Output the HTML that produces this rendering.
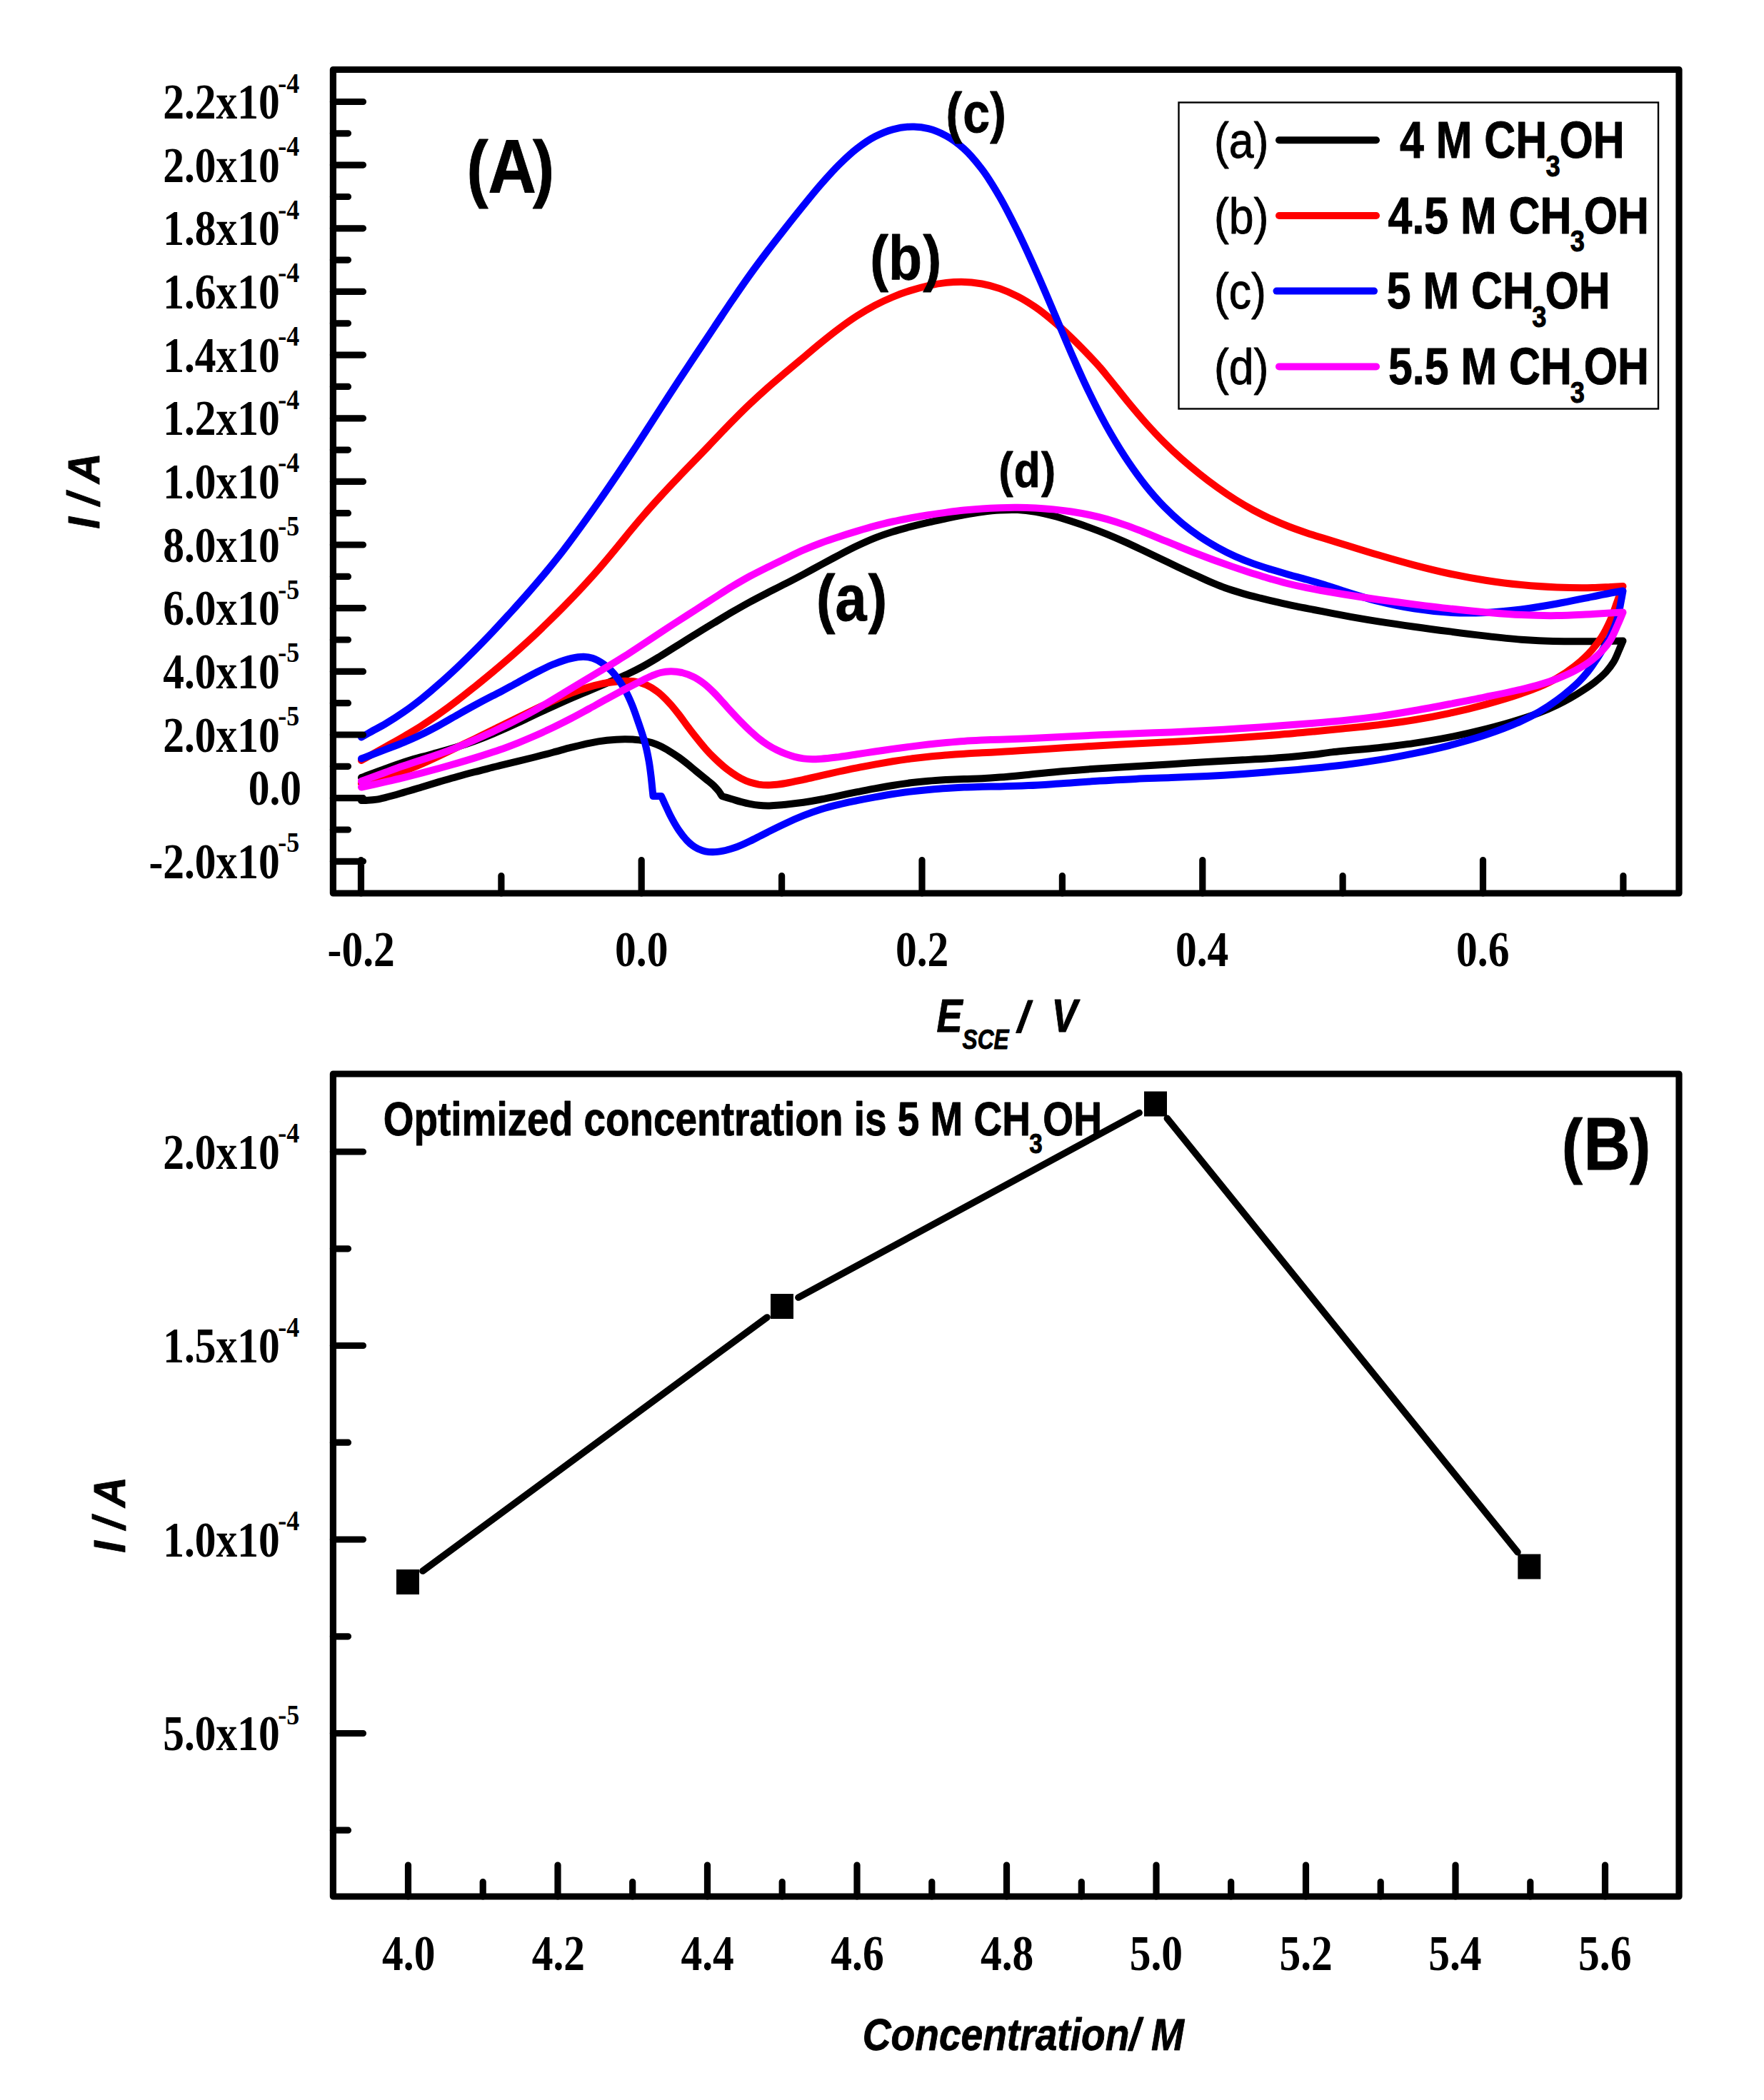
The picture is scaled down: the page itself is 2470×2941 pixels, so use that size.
<!DOCTYPE html>
<html><head><meta charset="utf-8"><title>Figure</title>
<style>html,body{margin:0;padding:0;background:#fff}svg{display:block}</style></head>
<body>
<svg xmlns="http://www.w3.org/2000/svg" width="2470" height="2941" viewBox="0 0 2470 2941">
<rect x="0" y="0" width="2470" height="2941" fill="#fff"/>
<g fill="none" stroke-width="10" stroke-linecap="round" stroke-linejoin="round">
<path d="M506.0 1089.0C517.5 1084.7 528.9 1080.3 540.4 1076.2C548.6 1073.2 556.7 1070.2 565.0 1067.5C573.2 1064.8 581.6 1062.5 590.0 1060.1C598.3 1057.8 606.7 1055.8 615.0 1053.4C623.4 1051.1 631.7 1048.7 640.0 1046.1C648.3 1043.5 656.7 1040.7 664.9 1037.7C673.4 1034.6 681.8 1031.3 690.1 1027.8C698.4 1024.4 706.7 1020.7 714.9 1017.0C723.3 1013.2 731.6 1009.2 740.0 1005.2C748.4 1001.3 756.7 997.3 765.1 993.4C773.4 989.6 781.7 985.8 790.0 982.1C798.3 978.5 806.7 975.0 815.0 971.5C823.3 967.9 831.6 964.4 840.0 960.9C848.3 957.3 856.7 953.8 865.1 950.1C870.4 947.8 875.8 945.5 881.0 943.0C887.4 940.0 893.6 936.9 899.8 933.5C908.3 928.9 916.6 923.8 924.9 918.8C933.4 913.6 941.8 908.2 950.2 902.9C958.5 897.7 966.7 892.5 975.0 887.5C983.2 882.4 991.5 877.3 999.9 872.3C1008.3 867.2 1016.6 862.1 1025.1 857.2C1033.4 852.4 1041.7 847.6 1050.0 843.1C1058.3 838.6 1066.7 834.3 1075.0 830.0C1083.3 825.8 1091.7 821.7 1099.9 817.4C1108.3 813.1 1116.6 808.7 1124.9 804.3C1133.3 799.8 1141.7 795.2 1150.1 790.7C1158.4 786.2 1166.6 781.7 1174.9 777.3C1183.2 772.9 1191.5 768.5 1200.0 764.5C1208.3 760.6 1216.7 756.8 1225.2 753.4C1233.3 750.2 1241.6 747.4 1249.9 744.8C1258.2 742.1 1266.6 739.9 1275.0 737.7C1283.3 735.6 1291.6 733.6 1299.9 731.7C1308.3 729.8 1316.6 727.8 1325.0 726.0C1333.3 724.3 1341.6 722.5 1350.0 721.0C1358.3 719.5 1366.6 718.1 1375.0 717.0C1383.3 715.9 1391.7 714.9 1400.0 714.5C1408.3 714.0 1416.7 713.7 1425.0 714.1C1433.4 714.5 1441.7 715.5 1449.9 716.8C1458.3 718.2 1466.7 720.3 1474.9 722.5C1483.4 724.7 1491.8 727.4 1500.1 730.1C1508.4 732.8 1516.7 735.6 1525.0 738.6C1533.3 741.6 1541.7 744.8 1549.9 748.1C1558.4 751.6 1566.7 755.2 1575.0 758.9C1583.4 762.7 1591.7 766.6 1600.0 770.5C1608.3 774.5 1616.7 778.5 1625.0 782.5C1633.3 786.5 1641.7 790.5 1650.0 794.4C1658.3 798.3 1666.6 802.2 1675.0 806.0C1683.3 809.8 1691.5 813.7 1699.9 817.2C1705.0 819.3 1710.1 821.4 1715.3 823.3C1723.4 826.2 1731.7 828.7 1740.0 831.1C1748.2 833.5 1756.6 835.6 1764.9 837.7C1773.3 839.8 1781.7 841.8 1790.1 843.7C1798.3 845.6 1806.6 847.4 1815.0 849.2C1823.3 850.9 1831.6 852.4 1840.0 854.0C1848.3 855.6 1856.7 857.2 1865.0 858.8C1870.3 859.8 1875.6 860.8 1880.9 861.8C1897.2 864.9 1913.7 867.7 1930.1 870.4C1946.7 873.0 1963.3 875.4 1980.0 877.7C1996.6 880.1 2013.3 882.3 2029.9 884.4C2046.6 886.6 2063.3 888.7 2080.1 890.6C2096.7 892.5 2113.3 894.4 2130.0 895.7C2138.3 896.3 2146.7 896.8 2155.0 897.2C2180.0 898.4 2205.0 898.4 2230.0 898.3C2240.0 898.2 2250.0 898.1 2260.0 897.8C2264.1 897.7 2268.3 897.6 2272.5 897.5C2270.6 901.9 2268.8 906.4 2266.9 910.7C2264.5 916.3 2262.4 922.1 2259.3 927.2C2256.3 932.1 2252.7 936.8 2248.9 941.0C2244.3 946.1 2239.0 950.5 2233.6 954.8C2228.5 958.9 2223.1 962.5 2217.6 966.1C2211.5 970.2 2205.2 974.0 2198.8 977.6C2192.6 981.1 2186.3 984.4 2180.0 987.5C2171.8 991.5 2163.3 995.1 2154.8 998.4C2146.6 1001.5 2138.2 1004.3 2129.8 1007.1C2113.4 1012.4 2096.7 1017.0 2080.0 1021.2C2063.5 1025.4 2046.7 1029.1 2030.0 1032.4C2013.4 1035.7 1996.7 1038.4 1980.0 1040.9C1963.4 1043.4 1946.7 1045.3 1930.0 1047.2C1913.4 1049.0 1896.7 1050.2 1880.1 1051.8C1875.1 1052.3 1870.1 1052.8 1865.1 1053.4C1856.7 1054.3 1848.3 1055.7 1839.9 1056.7C1823.3 1058.6 1806.6 1060.0 1790.0 1061.3C1773.3 1062.6 1756.7 1063.4 1740.0 1064.3C1723.4 1065.3 1706.7 1066.0 1690.0 1067.0C1673.3 1068.0 1656.7 1069.2 1640.0 1070.2C1623.3 1071.2 1606.7 1072.2 1590.0 1073.2C1573.3 1074.2 1556.6 1075.1 1540.0 1076.2C1523.3 1077.3 1506.7 1078.5 1490.1 1080.0C1473.3 1081.4 1456.6 1083.3 1439.9 1084.9C1426.6 1086.2 1413.3 1087.6 1400.0 1088.6C1391.7 1089.3 1383.3 1089.9 1375.0 1090.3C1366.7 1090.7 1358.3 1090.7 1350.0 1091.0C1341.7 1091.3 1333.3 1091.6 1325.0 1092.0C1316.7 1092.5 1308.3 1093.0 1300.0 1093.8C1291.6 1094.5 1283.3 1095.3 1275.0 1096.3C1266.7 1097.4 1258.3 1098.6 1250.0 1100.0C1241.6 1101.3 1233.3 1102.8 1225.0 1104.3C1216.6 1105.8 1208.3 1107.5 1200.0 1109.1C1191.7 1110.8 1183.4 1112.6 1175.1 1114.3C1166.7 1116.1 1158.3 1117.9 1149.9 1119.5C1141.6 1121.1 1133.4 1122.5 1125.0 1123.7C1116.7 1124.8 1108.4 1125.8 1100.0 1126.7C1095.8 1127.1 1091.7 1127.4 1087.5 1127.7C1083.3 1128.1 1079.1 1128.5 1075.0 1128.5C1070.8 1128.5 1066.6 1128.3 1062.5 1127.8C1058.3 1127.4 1054.2 1126.7 1050.0 1125.9C1045.8 1125.1 1041.6 1124.0 1037.4 1122.9C1033.3 1121.8 1029.3 1120.5 1025.2 1119.3C1020.5 1117.9 1015.7 1116.4 1011.0 1115.0C1009.4 1112.6 1008.0 1110.2 1006.3 1107.9C1004.3 1105.4 1002.1 1103.0 999.9 1100.7C996.2 1097.0 991.8 1094.0 987.8 1090.7C983.5 1087.1 979.2 1083.7 974.9 1080.1C970.8 1076.8 966.7 1073.2 962.6 1069.9C958.4 1066.6 954.2 1063.3 949.8 1060.2C945.9 1057.4 941.8 1054.7 937.7 1052.2C933.5 1049.7 929.3 1047.2 924.9 1045.1C920.8 1043.2 916.6 1041.5 912.4 1040.1C906.7 1038.3 900.8 1037.2 894.9 1036.4C888.3 1035.4 881.6 1035.2 875.0 1035.2C866.7 1035.2 858.3 1035.8 850.0 1036.8C841.6 1037.7 833.3 1039.1 825.1 1040.8C816.7 1042.4 808.4 1044.6 800.1 1046.7C791.6 1048.8 783.3 1051.3 774.9 1053.5C766.6 1055.8 758.3 1057.9 750.0 1060.0C741.7 1062.1 733.4 1064.1 725.0 1066.1C716.7 1068.1 708.4 1070.1 700.0 1072.2C696.7 1073.0 693.3 1073.9 689.9 1074.7C681.6 1076.8 673.3 1078.8 665.0 1081.0C656.7 1083.1 648.3 1085.3 640.0 1087.7C631.7 1090.0 623.3 1092.5 615.0 1094.9C606.6 1097.4 598.3 1100.0 590.0 1102.5C581.7 1105.0 573.3 1107.6 565.0 1109.9C556.7 1112.3 548.4 1114.8 539.9 1116.8C535.8 1117.8 531.6 1118.9 527.4 1119.6C523.3 1120.2 519.1 1120.5 515.0 1120.7C512.0 1120.9 509.0 1120.9 506.0 1121.0" stroke="#000000"/>
<path d="M506.0 1065.0C517.3 1058.6 528.7 1052.3 540.0 1045.9C548.3 1041.2 556.7 1036.6 564.9 1031.8C573.3 1026.8 581.7 1021.9 589.9 1016.6C598.5 1011.2 606.8 1005.5 615.1 999.7C623.4 993.8 631.6 987.7 639.7 981.5C648.4 974.9 656.8 968.1 665.3 961.3C673.6 954.7 681.8 947.9 690.0 941.1C698.4 934.1 706.6 927.1 714.8 920.0C723.4 912.5 731.8 905.0 740.2 897.3C748.5 889.6 756.8 881.8 764.9 873.8C773.3 865.6 781.7 857.4 789.9 849.0C798.5 840.2 807.0 831.3 815.4 822.3C823.6 813.5 831.7 804.6 839.6 795.5C848.3 785.5 856.7 775.3 865.1 765.1C870.6 758.5 875.9 751.8 881.3 745.2C887.4 737.8 893.6 730.3 900.0 723.0C908.1 713.5 916.5 704.2 925.0 695.0C933.2 685.9 941.7 677.0 950.2 668.2C958.3 659.6 966.6 651.3 974.8 642.8C980.6 636.8 986.4 630.7 992.2 624.7C1003.2 613.2 1014.0 601.5 1025.2 590.2C1033.4 582.0 1041.5 573.8 1049.9 565.9C1058.2 558.0 1066.6 550.3 1075.2 542.7C1083.4 535.5 1091.7 528.6 1100.0 521.5C1108.2 514.6 1116.4 507.8 1124.5 501.0C1133.1 493.8 1141.6 486.4 1150.3 479.4C1158.4 472.8 1166.6 466.2 1175.0 460.0C1183.1 453.9 1191.4 447.9 1200.0 442.4C1208.2 437.2 1216.5 432.3 1225.1 427.7C1233.2 423.5 1241.5 419.5 1250.0 416.0C1258.1 412.6 1266.5 409.5 1275.0 406.9C1283.2 404.3 1291.6 402.0 1300.0 400.1C1308.3 398.3 1316.6 396.8 1325.0 395.9C1332.0 395.1 1339.1 394.7 1346.1 394.7C1355.8 394.8 1365.5 395.8 1375.0 397.5C1383.5 399.1 1391.9 401.3 1399.9 404.1C1408.5 407.1 1416.9 410.9 1425.0 415.1C1433.6 419.5 1441.8 424.7 1449.8 430.2C1458.6 436.2 1466.9 443.1 1475.0 449.9C1483.6 457.1 1491.8 464.8 1499.9 472.6C1508.7 481.0 1517.1 489.7 1525.5 498.5C1530.6 503.9 1535.7 509.3 1540.6 514.9C1545.3 520.4 1549.7 526.0 1554.3 531.6C1563.0 542.3 1571.4 553.2 1580.2 563.9C1588.3 573.7 1596.5 583.5 1605.0 593.0C1613.1 602.0 1621.4 611.0 1630.0 619.5C1638.1 627.7 1646.6 635.6 1655.2 643.2C1663.2 650.3 1671.4 657.1 1679.8 663.8C1688.0 670.4 1696.5 676.8 1705.1 683.0C1713.2 688.8 1721.6 694.5 1730.1 699.9C1738.2 705.0 1746.5 709.9 1755.0 714.5C1763.2 718.9 1771.6 723.1 1780.0 726.9C1788.2 730.7 1796.6 734.3 1805.0 737.5C1813.2 740.7 1821.6 743.6 1830.0 746.4C1838.3 749.2 1846.7 751.7 1855.1 754.3C1863.6 756.9 1872.2 759.5 1880.8 762.2C1897.2 767.2 1913.6 772.5 1930.1 777.3C1946.6 782.2 1963.2 787.0 1979.9 791.3C1996.6 795.7 2013.3 799.9 2030.1 803.5C2046.6 807.0 2063.3 810.1 2080.0 812.7C2096.6 815.2 2113.3 817.4 2130.0 819.0C2146.6 820.6 2163.3 821.8 2180.0 822.4C2196.6 823.1 2213.3 823.4 2230.0 823.0C2238.3 822.8 2246.6 822.3 2255.0 821.9C2260.8 821.6 2266.7 821.3 2272.5 821.0C2270.1 827.4 2267.8 833.8 2265.4 840.1C2261.7 850.0 2258.7 860.2 2254.3 869.8C2250.8 877.6 2247.0 885.3 2242.4 892.5C2238.6 898.5 2234.2 904.3 2229.5 909.7C2222.3 918.2 2213.9 925.7 2205.2 932.7C2197.3 939.0 2188.8 944.8 2180.0 949.9C2172.0 954.5 2163.4 958.5 2154.8 962.2C2146.6 965.7 2138.1 968.6 2129.7 971.5C2113.4 977.2 2096.8 982.0 2080.1 986.6C2063.5 991.1 2046.8 995.2 2029.9 998.9C2013.4 1002.5 1996.7 1005.6 1979.9 1008.3C1963.4 1011.0 1946.7 1013.1 1930.1 1015.2C1913.4 1017.2 1896.7 1018.8 1880.0 1020.5C1866.7 1021.9 1853.3 1023.2 1840.0 1024.4C1823.3 1026.0 1806.7 1027.6 1790.0 1028.9C1773.3 1030.3 1756.7 1031.6 1740.0 1032.8C1723.3 1034.0 1706.7 1035.1 1690.0 1036.1C1673.3 1037.2 1656.7 1038.1 1640.0 1039.0C1623.3 1039.9 1606.7 1040.7 1590.0 1041.6C1573.3 1042.4 1556.7 1043.2 1540.0 1044.2C1523.3 1045.2 1506.7 1046.2 1490.0 1047.3C1473.3 1048.4 1456.7 1049.6 1440.0 1050.6C1426.7 1051.5 1413.3 1052.4 1400.0 1053.1C1391.7 1053.5 1383.3 1053.9 1375.0 1054.3C1366.7 1054.8 1358.3 1055.1 1350.0 1055.7C1341.7 1056.2 1333.3 1056.8 1325.0 1057.5C1316.7 1058.2 1308.3 1058.9 1300.0 1059.8C1291.6 1060.7 1283.3 1061.6 1275.0 1062.6C1266.7 1063.7 1258.3 1064.9 1250.0 1066.2C1241.7 1067.6 1233.3 1069.1 1224.9 1070.6C1216.6 1072.1 1208.3 1073.6 1200.0 1075.3C1191.7 1076.9 1183.3 1078.6 1175.0 1080.5C1166.7 1082.3 1158.3 1084.2 1150.0 1086.1C1141.7 1088.0 1133.3 1090.1 1125.0 1091.9C1116.6 1093.7 1108.3 1095.6 1099.9 1097.0C1095.8 1097.7 1091.7 1098.4 1087.5 1098.8C1083.3 1099.2 1079.1 1099.6 1075.0 1099.5C1070.8 1099.5 1066.6 1099.2 1062.4 1098.6C1058.3 1097.9 1054.1 1096.9 1050.1 1095.6C1045.8 1094.2 1041.5 1092.2 1037.5 1090.1C1033.1 1087.9 1029.0 1085.2 1025.0 1082.4C1020.7 1079.5 1016.6 1076.3 1012.6 1072.9C1008.1 1069.2 1003.9 1065.2 999.8 1061.2C995.7 1057.2 991.7 1053.0 987.9 1048.7C983.3 1043.5 979.0 1038.1 974.7 1032.7C970.7 1027.7 966.7 1022.5 962.8 1017.3C958.5 1011.5 954.4 1005.6 950.0 999.9C946.0 994.8 942.0 989.6 937.5 984.8C932.0 978.8 926.2 972.7 919.6 968.0C915.1 964.6 910.2 961.5 905.1 959.2C900.3 957.1 895.0 955.5 889.9 954.6C885.0 953.7 879.9 953.7 875.0 953.7C866.6 953.7 858.2 955.0 850.0 956.3C841.6 957.7 833.2 959.8 825.0 962.1C816.6 964.5 808.3 967.4 800.0 970.6C791.6 973.8 783.3 977.5 775.1 981.1C766.6 985.0 758.2 989.1 749.8 993.1C741.6 997.1 733.3 1001.1 725.0 1005.1C716.7 1009.1 708.4 1013.2 700.1 1017.3C696.7 1019.0 693.3 1020.7 689.9 1022.3C681.6 1026.5 673.2 1030.6 664.8 1034.7C656.7 1038.6 648.4 1042.6 640.2 1046.5C631.8 1050.6 623.4 1054.7 614.9 1058.7C606.6 1062.6 598.4 1066.5 590.0 1070.1C581.8 1073.6 573.4 1077.0 565.0 1079.9C556.6 1082.8 548.1 1085.2 539.6 1087.8C528.5 1091.1 517.2 1094.3 506.0 1097.5" stroke="#ff0000"/>
<path d="M506.0 1032.5C509.2 1030.7 512.4 1028.8 515.6 1027.0C523.6 1022.4 531.9 1018.3 539.8 1013.6C548.4 1008.5 556.8 1003.1 565.0 997.4C573.6 991.5 581.9 985.2 590.0 978.8C598.5 972.0 606.8 964.9 614.9 957.7C623.5 950.3 631.8 942.6 640.1 934.8C648.5 926.8 656.8 918.7 665.0 910.5C673.4 902.1 681.7 893.5 689.9 884.9C698.5 875.9 706.8 866.7 715.2 857.5C723.5 848.4 731.8 839.2 739.9 829.9C748.4 820.1 756.9 810.2 765.2 800.2C773.5 790.1 781.7 780.0 789.6 769.7C798.3 758.3 806.8 746.7 815.2 735.1C823.6 723.5 831.9 711.8 840.1 700.1C848.5 688.1 856.7 676.0 864.9 663.9C873.6 651.0 882.2 637.9 890.8 624.9C902.4 607.2 913.7 589.4 925.2 571.6C933.5 558.9 941.7 546.2 950.0 533.5C958.3 520.8 966.7 508.2 975.1 495.6C983.3 483.2 991.6 470.8 999.9 458.4C1008.2 446.1 1016.4 433.6 1024.8 421.3C1033.3 408.9 1041.7 396.5 1050.5 384.3C1058.4 373.2 1066.6 362.3 1074.9 351.4C1083.1 340.6 1091.5 330.0 1099.8 319.4C1108.1 308.8 1116.5 298.3 1124.9 287.9C1133.2 277.7 1141.4 267.4 1150.1 257.5C1158.2 248.3 1166.3 239.1 1175.0 230.5C1183.1 222.6 1191.3 214.6 1200.3 207.8C1208.2 201.7 1216.4 195.8 1225.2 191.3C1233.1 187.2 1241.4 183.6 1250.0 181.3C1259.6 178.7 1269.9 177.2 1279.9 177.5C1286.6 177.7 1293.4 178.6 1299.9 180.2C1308.6 182.3 1317.2 186.1 1325.1 190.4C1333.9 195.2 1342.1 201.6 1349.6 208.3C1358.7 216.4 1366.5 226.1 1374.0 235.8C1383.6 248.1 1391.6 261.7 1399.5 275.2C1408.9 291.3 1417.1 308.1 1425.4 324.8C1433.9 342.2 1441.9 359.9 1449.8 377.6C1458.4 396.6 1466.5 415.9 1474.7 435.1C1483.3 455.0 1491.4 475.1 1500.2 495.0C1508.3 513.4 1516.3 531.9 1525.2 549.9C1534.6 569.3 1544.4 588.6 1555.3 607.3C1563.2 620.9 1571.4 634.3 1580.2 647.3C1588.0 658.8 1596.2 670.2 1604.9 681.1C1612.9 691.0 1621.3 700.7 1630.2 709.8C1638.1 717.8 1646.4 725.6 1655.1 732.8C1663.0 739.3 1671.3 745.5 1679.8 751.3C1688.0 756.8 1696.4 762.0 1705.1 766.9C1713.2 771.4 1721.5 775.6 1730.0 779.4C1738.2 783.1 1746.6 786.4 1755.0 789.4C1763.2 792.4 1771.6 795.0 1779.9 797.6C1788.3 800.2 1796.6 802.6 1805.0 805.0C1813.3 807.3 1821.7 809.4 1830.1 811.8C1838.3 814.1 1846.6 816.5 1854.8 819.0C1863.2 821.6 1871.4 824.6 1879.7 827.3C1896.4 832.6 1913.2 838.0 1930.2 842.2C1946.6 846.3 1963.2 849.8 1979.9 852.4C1996.4 855.0 2013.2 856.8 2029.9 857.8C2038.2 858.3 2046.6 858.6 2055.0 858.6C2063.4 858.6 2071.7 858.3 2080.1 857.9C2096.7 857.1 2113.4 855.4 2129.9 853.4C2146.7 851.3 2163.4 848.5 2180.0 845.5C2196.8 842.5 2213.4 838.9 2230.1 835.6C2238.4 833.9 2246.7 832.1 2255.1 830.5C2260.9 829.5 2266.7 828.5 2272.5 827.5C2271.6 832.4 2270.8 837.4 2269.8 842.3C2268.2 850.7 2266.9 859.2 2264.4 867.4C2262.0 875.1 2258.8 882.6 2255.2 889.9C2251.7 897.3 2247.4 904.3 2243.1 911.3C2240.0 916.5 2236.8 921.7 2233.3 926.7C2230.3 931.3 2227.2 935.8 2223.8 940.0C2219.8 945.1 2215.5 949.9 2211.0 954.5C2207.0 958.5 2202.8 962.2 2198.6 965.8C2192.6 971.0 2186.4 976.0 2180.0 980.6C2172.0 986.5 2163.6 992.0 2154.9 997.1C2146.7 1001.8 2138.1 1006.1 2129.5 1010.1C2113.5 1017.6 2096.7 1023.6 2079.9 1029.3C2063.6 1034.8 2046.8 1039.4 2030.1 1043.8C2013.5 1048.0 1996.8 1051.7 1980.0 1055.1C1963.4 1058.5 1946.7 1061.7 1930.0 1064.4C1913.4 1067.1 1896.7 1069.5 1880.0 1071.5C1866.7 1073.1 1853.3 1074.5 1840.0 1075.8C1823.4 1077.4 1806.7 1078.8 1790.0 1080.1C1773.4 1081.5 1756.7 1082.8 1740.0 1084.0C1723.3 1085.1 1706.7 1086.1 1690.0 1087.0C1673.3 1087.8 1656.7 1088.4 1640.0 1089.0C1623.3 1089.7 1606.7 1090.1 1590.0 1090.9C1573.3 1091.6 1556.7 1092.6 1540.0 1093.6C1523.3 1094.6 1506.7 1096.0 1490.0 1097.1C1473.3 1098.1 1456.7 1099.3 1440.0 1100.1C1426.7 1100.7 1413.3 1101.1 1400.0 1101.4C1391.7 1101.6 1383.3 1101.6 1375.0 1101.8C1366.7 1102.0 1358.3 1102.1 1350.0 1102.5C1341.7 1102.9 1333.3 1103.4 1325.0 1104.0C1316.7 1104.5 1308.3 1105.2 1300.0 1105.9C1291.7 1106.7 1283.3 1107.6 1275.0 1108.6C1266.7 1109.6 1258.3 1110.8 1250.0 1112.0C1241.6 1113.3 1233.3 1114.8 1225.0 1116.3C1216.6 1117.8 1208.3 1119.4 1200.0 1121.1C1191.6 1122.9 1183.2 1124.6 1174.9 1126.7C1166.6 1128.7 1158.2 1130.8 1150.1 1133.3C1141.6 1136.0 1133.3 1139.0 1125.1 1142.2C1116.6 1145.6 1108.2 1149.3 1099.9 1153.2C1091.5 1157.1 1083.2 1161.2 1074.9 1165.4C1070.1 1167.8 1065.3 1170.2 1060.5 1172.7C1057.0 1174.5 1053.5 1176.3 1050.0 1178.0C1042.6 1181.6 1035.2 1185.1 1027.5 1187.6C1022.6 1189.2 1017.6 1190.7 1012.5 1191.7C1007.6 1192.6 1002.5 1193.4 997.6 1193.3C994.3 1193.3 990.9 1193.0 987.6 1192.3C984.1 1191.5 980.7 1190.2 977.4 1188.7C974.1 1187.1 970.9 1185.1 968.1 1182.8C965.3 1180.7 962.8 1178.0 960.4 1175.5C956.7 1171.4 953.4 1166.9 950.3 1162.4C945.8 1155.8 942.0 1148.8 938.4 1141.8C935.9 1136.9 933.8 1131.8 931.4 1126.8C929.6 1122.9 927.8 1118.9 926.0 1115.0L914.5 1115.0C914.2 1112.5 914.0 1110.0 913.7 1107.5C913.0 1100.8 912.4 1094.1 911.6 1087.4C910.8 1080.7 910.0 1074.1 908.9 1067.5C907.6 1060.0 906.2 1052.5 904.3 1045.2C902.6 1038.3 900.5 1031.5 898.3 1024.8C896.4 1019.0 894.4 1013.2 892.4 1007.5C890.1 1000.8 887.8 994.0 885.1 987.4C882.1 980.3 879.1 973.2 875.3 966.6C870.7 958.4 865.6 950.1 859.3 943.1C855.1 938.4 850.4 933.8 845.2 930.2C840.5 926.8 835.3 923.5 829.8 921.8C825.8 920.6 821.5 920.0 817.3 919.8C811.6 919.6 805.7 920.8 800.1 922.0C791.6 923.7 783.3 927.0 775.2 930.2C766.5 933.7 758.3 938.1 750.0 942.3C741.5 946.6 733.2 951.3 724.9 955.8C716.5 960.3 708.2 965.1 699.7 969.5C696.6 971.1 693.3 972.7 690.1 974.3C681.7 978.6 673.3 983.0 665.0 987.5C656.7 992.0 648.4 996.7 640.2 1001.3C631.7 1006.1 623.4 1011.1 614.9 1015.8C606.6 1020.3 598.4 1024.7 589.9 1028.8C581.7 1032.8 573.4 1036.4 565.0 1039.9C556.7 1043.4 548.2 1046.4 539.9 1049.6C528.6 1054.0 517.3 1058.2 506.0 1062.5" stroke="#0000ff"/>
<path d="M506.0 1094.0C517.4 1089.8 528.8 1085.6 540.2 1081.5C548.4 1078.5 556.7 1075.4 565.0 1072.6C573.3 1069.7 581.7 1067.0 590.0 1064.3C598.3 1061.5 606.7 1058.8 615.0 1055.9C623.4 1053.0 631.7 1049.9 640.0 1046.6C648.4 1043.3 656.7 1039.8 664.9 1036.2C673.4 1032.5 681.7 1028.6 690.1 1024.7C698.4 1020.8 706.8 1016.7 715.1 1012.6C723.4 1008.4 731.7 1004.1 739.9 999.7C748.3 995.0 756.7 990.2 765.0 985.3C773.4 980.4 781.7 975.2 790.1 970.1C798.4 965.1 806.7 960.0 815.0 955.0C823.3 950.0 831.7 945.0 840.0 940.0C848.3 935.0 856.7 930.0 864.9 924.9C870.3 921.6 875.7 918.3 881.0 914.9C887.3 910.8 893.6 906.6 900.0 902.4C908.3 896.9 916.6 891.4 924.9 885.9C933.3 880.3 941.8 874.8 950.2 869.4C958.4 864.1 966.6 858.9 974.8 853.6C983.2 848.2 991.5 842.8 999.9 837.4C1008.3 832.0 1016.6 826.5 1025.2 821.3C1033.4 816.4 1041.6 811.6 1050.0 807.0C1058.3 802.6 1066.7 798.4 1075.1 794.2C1083.2 790.1 1091.4 786.2 1099.6 782.2C1108.2 778.1 1116.6 773.9 1125.3 770.1C1133.5 766.6 1141.7 763.3 1150.0 760.2C1158.2 757.1 1166.6 754.4 1174.9 751.7C1183.2 749.0 1191.6 746.4 1200.0 743.9C1208.3 741.4 1216.6 738.9 1225.0 736.7C1233.3 734.4 1241.6 732.4 1250.0 730.5C1258.3 728.7 1266.6 727.1 1275.0 725.5C1283.3 724.0 1291.6 722.6 1300.0 721.3C1308.3 720.0 1316.7 718.7 1325.0 717.6C1333.3 716.5 1341.7 715.4 1350.0 714.6C1358.3 713.7 1366.7 713.0 1375.0 712.5C1383.3 711.9 1391.7 711.5 1400.0 711.2C1408.3 710.9 1416.7 710.7 1425.0 710.8C1433.3 710.8 1441.7 711.0 1450.0 711.4C1458.3 711.9 1466.7 712.5 1475.0 713.4C1483.4 714.2 1491.7 715.2 1500.0 716.5C1508.4 717.8 1516.7 719.3 1525.0 721.0C1533.4 722.8 1541.7 724.8 1550.0 727.1C1558.4 729.5 1566.7 732.2 1575.0 735.1C1583.4 738.0 1591.7 741.3 1600.0 744.5C1608.4 747.9 1616.7 751.4 1625.1 754.8C1633.4 758.2 1641.7 761.7 1650.0 765.0C1658.3 768.4 1666.6 771.8 1675.0 775.0C1683.3 778.2 1691.6 781.4 1700.0 784.5C1708.3 787.5 1716.7 790.5 1725.0 793.4C1733.3 796.2 1741.6 799.0 1749.9 801.7C1758.3 804.3 1766.6 807.0 1775.0 809.5C1783.3 811.9 1791.6 814.3 1800.0 816.5C1808.3 818.6 1816.7 820.5 1825.0 822.2C1833.3 824.0 1841.7 825.5 1850.0 827.0C1860.3 828.8 1870.6 830.5 1881.0 832.2C1897.3 834.8 1913.7 837.3 1930.0 839.7C1946.7 842.0 1963.3 844.2 1980.0 846.4C1996.6 848.5 2013.3 850.6 2030.0 852.4C2046.7 854.3 2063.3 856.0 2080.0 857.5C2096.7 858.9 2113.3 860.4 2130.0 861.1C2146.7 861.9 2163.3 862.3 2180.0 862.1C2196.6 861.9 2213.3 860.7 2229.9 859.9C2244.1 859.2 2258.3 858.3 2272.5 857.5C2270.2 863.1 2268.0 868.7 2265.5 874.2C2262.0 882.1 2258.9 890.4 2254.3 897.6C2247.9 907.4 2239.2 916.2 2230.0 923.6C2222.6 929.6 2214.0 934.6 2205.5 939.2C2197.4 943.6 2188.8 947.2 2180.3 950.6C2171.9 953.8 2163.3 956.6 2154.7 959.1C2146.5 961.5 2138.2 963.4 2129.9 965.5C2113.4 969.4 2096.7 972.7 2080.0 976.1C2063.4 979.6 2046.7 982.8 2030.0 986.0C2013.4 989.2 1996.7 992.4 1980.0 995.3C1963.4 998.2 1946.7 1001.0 1929.9 1003.4C1913.3 1005.6 1896.7 1007.5 1880.0 1009.2C1866.7 1010.5 1853.4 1011.6 1840.0 1012.7C1823.4 1014.1 1806.7 1015.3 1790.0 1016.6C1773.3 1017.8 1756.7 1019.0 1740.0 1020.1C1723.3 1021.2 1706.7 1022.1 1690.0 1023.0C1673.3 1023.9 1656.7 1024.6 1640.0 1025.4C1623.3 1026.1 1606.7 1026.6 1590.0 1027.3C1573.3 1027.9 1556.7 1028.5 1540.0 1029.3C1523.3 1030.0 1506.7 1030.9 1490.0 1031.7C1473.3 1032.5 1456.7 1033.4 1440.0 1034.2C1426.7 1034.8 1413.3 1035.3 1400.0 1035.7C1391.7 1036.0 1383.3 1036.2 1375.0 1036.5C1366.7 1036.9 1358.3 1037.3 1350.0 1037.9C1341.7 1038.4 1333.3 1039.2 1325.0 1040.0C1316.7 1040.8 1308.3 1041.6 1300.0 1042.5C1291.7 1043.5 1283.3 1044.5 1275.0 1045.6C1266.7 1046.6 1258.3 1047.7 1250.0 1048.9C1241.7 1050.1 1233.3 1051.3 1225.0 1052.5C1216.7 1053.7 1208.4 1055.1 1200.1 1056.3C1191.7 1057.6 1183.3 1059.0 1174.9 1060.1C1166.6 1061.1 1158.3 1062.2 1150.0 1062.7C1145.8 1063.0 1141.7 1063.3 1137.5 1063.3C1133.3 1063.2 1129.1 1063.0 1125.0 1062.4C1120.8 1061.8 1116.6 1061.0 1112.5 1059.9C1108.3 1058.8 1104.1 1057.3 1099.9 1055.7C1095.7 1054.1 1091.6 1052.3 1087.6 1050.3C1083.2 1048.2 1079.0 1045.7 1074.9 1043.1C1070.7 1040.4 1066.6 1037.4 1062.7 1034.3C1058.2 1030.8 1054.1 1026.9 1049.9 1023.1C1045.7 1019.2 1041.6 1015.1 1037.6 1011.0C1033.3 1006.6 1029.1 1002.1 1024.9 997.6C1020.8 993.2 1016.9 988.7 1012.8 984.2C1008.6 979.6 1004.5 974.7 1000.0 970.3C995.1 965.5 990.1 960.5 984.6 956.5C980.0 953.1 975.2 949.9 970.1 947.5C965.3 945.2 960.2 943.3 955.0 942.0C950.1 940.9 945.0 940.3 940.1 940.3C935.1 940.2 930.0 940.8 925.1 942.0C920.9 943.0 916.8 944.8 912.7 946.5C908.4 948.2 904.3 950.3 900.2 952.4C891.7 956.5 883.3 960.9 874.9 965.3C866.6 969.7 858.3 974.2 850.1 978.7C841.7 983.2 833.4 987.9 825.0 992.5C816.7 997.0 808.3 1001.7 799.9 1006.0C791.6 1010.3 783.4 1014.5 775.0 1018.5C766.8 1022.4 758.4 1026.3 750.1 1030.0C741.8 1033.6 733.4 1037.2 725.0 1040.6C716.7 1043.9 708.3 1047.2 699.9 1050.1C696.6 1051.2 693.4 1052.2 690.1 1053.3C681.8 1056.1 673.4 1058.8 665.0 1061.4C656.7 1064.0 648.3 1066.5 640.0 1068.9C631.7 1071.3 623.3 1073.7 615.0 1076.0C606.7 1078.3 598.4 1080.5 590.1 1082.7C581.7 1084.9 573.3 1087.1 564.9 1089.2C556.6 1091.2 548.3 1093.0 540.0 1094.9C528.7 1097.5 517.3 1100.0 506.0 1102.5" stroke="#ff00ff"/>
</g>
<g fill="none" stroke="#000" stroke-width="9.2" stroke-linecap="round" stroke-linejoin="round">
<rect x="466.4" y="97.5" width="1884.6" height="1153.5"/>
<rect x="466.4" y="1504.0" width="1884.6" height="1152.0"/>
<path d="M466.4 1206.3H508.5M466.4 1162.0H487.5M466.4 1117.7H508.5M466.4 1073.3H487.5M466.4 1029.0H508.5M466.4 984.7H487.5M466.4 940.4H508.5M466.4 896.0H487.5M466.4 851.7H508.5M466.4 807.4H487.5M466.4 763.0H508.5M466.4 718.7H487.5M466.4 674.4H508.5M466.4 630.1H487.5M466.4 585.8H508.5M466.4 541.4H487.5M466.4 497.1H508.5M466.4 452.8H487.5M466.4 408.4H508.5M466.4 364.1H487.5M466.4 319.8H508.5M466.4 275.5H487.5M466.4 231.1H508.5M466.4 186.8H487.5M466.4 142.5H508.5M505.5 1251.0V1204.5M701.9 1251.0V1226.5M898.2 1251.0V1204.5M1094.6 1251.0V1226.5M1291.0 1251.0V1204.5M1487.4 1251.0V1226.5M1683.8 1251.0V1204.5M1880.1 1251.0V1226.5M2076.5 1251.0V1204.5M2272.9 1251.0V1226.5M466.4 2563.2H487.5M466.4 2427.5H508.5M466.4 2291.8H487.5M466.4 2156.0H508.5M466.4 2020.2H487.5M466.4 1884.5H508.5M466.4 1748.8H487.5M466.4 1613.0H508.5M571.5 2656.0V2612.0M676.2 2656.0V2635.5M781.0 2656.0V2612.0M885.7 2656.0V2635.5M990.5 2656.0V2612.0M1095.2 2656.0V2635.5M1200.0 2656.0V2612.0M1304.8 2656.0V2635.5M1409.5 2656.0V2612.0M1514.3 2656.0V2635.5M1619.0 2656.0V2612.0M1723.7 2656.0V2635.5M1828.5 2656.0V2612.0M1933.2 2656.0V2635.5M2038.0 2656.0V2612.0M2142.8 2656.0V2635.5M2247.5 2656.0V2612.0"/>
</g>
<rect x="1650.5" y="143.5" width="671.5" height="429" fill="#fff" stroke="#000" stroke-width="2.4"/>
<g stroke-width="10" stroke-linecap="round">
<line x1="1791" y1="196.2" x2="1927" y2="196.2" stroke="#000000"/>
<line x1="1791" y1="302.0" x2="1927" y2="302.0" stroke="#ff0000"/>
<line x1="1787.5" y1="407.6" x2="1924" y2="407.6" stroke="#0000ff"/>
<line x1="1791" y1="513.4" x2="1927" y2="513.4" stroke="#ff00ff"/>
</g>
<g stroke="#000" stroke-width="9.5" stroke-linecap="round" fill="none">
<line x1="591.9" y1="2200.1" x2="1074.1" y2="1844.9"/>
<line x1="1117.9" y1="1817.1" x2="1595.1" y2="1558.4"/>
<line x1="1634.3" y1="1566.2" x2="2125.0" y2="2173.8"/>
</g>
<rect x="555.0" y="2198.0" width="32" height="35" fill="#000"/>
<rect x="1079.0" y="1812.0" width="32" height="35" fill="#000"/>
<rect x="1602.0" y="1528.5" width="32" height="35" fill="#000"/>
<rect x="2125.3" y="2176.5" width="32" height="35" fill="#000"/>
<text transform="translate(1699.89 221.00) scale(0.9 1.0)" font-family='"Liberation Sans", sans-serif' font-weight="normal" font-style="normal" font-size="69.5" stroke="#000" stroke-width="0.9" stroke-linejoin="round">(a)</text>
<text transform="translate(1699.89 326.80) scale(0.9 1.0)" font-family='"Liberation Sans", sans-serif' font-weight="normal" font-style="normal" font-size="69.5" stroke="#000" stroke-width="0.9" stroke-linejoin="round">(b)</text>
<text transform="translate(1699.89 432.40) scale(0.9 1.0)" font-family='"Liberation Sans", sans-serif' font-weight="normal" font-style="normal" font-size="69.5" stroke="#000" stroke-width="0.9" stroke-linejoin="round">(c)</text>
<text transform="translate(1699.89 538.20) scale(0.9 1.0)" font-family='"Liberation Sans", sans-serif' font-weight="normal" font-style="normal" font-size="69.5" stroke="#000" stroke-width="0.9" stroke-linejoin="round">(d)</text>
<text transform="translate(1960.09 221.00) scale(0.875 1.035)" font-family='"Liberation Sans", sans-serif' font-weight="bold" font-style="normal" font-size="69.5" stroke="#000" stroke-width="0.9" stroke-linejoin="round">4 M CH</text>
<text transform="translate(2164.38 246.50) scale(0.875 1.035)" font-family='"Liberation Sans", sans-serif' font-weight="bold" font-style="normal" font-size="41.5" stroke="#000" stroke-width="0.9" stroke-linejoin="round">3</text>
<text transform="translate(2183.57 221.00) scale(0.875 1.035)" font-family='"Liberation Sans", sans-serif' font-weight="bold" font-style="normal" font-size="69.5" stroke="#000" stroke-width="0.9" stroke-linejoin="round">OH</text>
<text transform="translate(1943.59 326.80) scale(0.875 1.035)" font-family='"Liberation Sans", sans-serif' font-weight="bold" font-style="normal" font-size="69.5" stroke="#000" stroke-width="0.9" stroke-linejoin="round">4.5 M CH</text>
<text transform="translate(2198.68 352.30) scale(0.875 1.035)" font-family='"Liberation Sans", sans-serif' font-weight="bold" font-style="normal" font-size="41.5" stroke="#000" stroke-width="0.9" stroke-linejoin="round">3</text>
<text transform="translate(2217.77 326.80) scale(0.875 1.035)" font-family='"Liberation Sans", sans-serif' font-weight="bold" font-style="normal" font-size="69.5" stroke="#000" stroke-width="0.9" stroke-linejoin="round">OH</text>
<text transform="translate(1941.82 432.40) scale(0.875 1.035)" font-family='"Liberation Sans", sans-serif' font-weight="bold" font-style="normal" font-size="69.5" stroke="#000" stroke-width="0.9" stroke-linejoin="round">5 M CH</text>
<text transform="translate(2145.18 457.90) scale(0.875 1.035)" font-family='"Liberation Sans", sans-serif' font-weight="bold" font-style="normal" font-size="41.5" stroke="#000" stroke-width="0.9" stroke-linejoin="round">3</text>
<text transform="translate(2163.57 432.40) scale(0.875 1.035)" font-family='"Liberation Sans", sans-serif' font-weight="bold" font-style="normal" font-size="69.5" stroke="#000" stroke-width="0.9" stroke-linejoin="round">OH</text>
<text transform="translate(1944.02 538.20) scale(0.875 1.035)" font-family='"Liberation Sans", sans-serif' font-weight="bold" font-style="normal" font-size="69.5" stroke="#000" stroke-width="0.9" stroke-linejoin="round">5.5 M CH</text>
<text transform="translate(2198.68 563.70) scale(0.875 1.035)" font-family='"Liberation Sans", sans-serif' font-weight="bold" font-style="normal" font-size="41.5" stroke="#000" stroke-width="0.9" stroke-linejoin="round">3</text>
<text transform="translate(2217.77 538.20) scale(0.875 1.035)" font-family='"Liberation Sans", sans-serif' font-weight="bold" font-style="normal" font-size="69.5" stroke="#000" stroke-width="0.9" stroke-linejoin="round">OH</text>
<text transform="translate(228.17 1052.50) scale(0.862 1.0)" font-family='"Liberation Serif", serif' font-weight="bold" font-style="normal" font-size="69.0">2.0x10</text>
<text transform="translate(389.15 1016.00) scale(0.9 1.0)" font-family='"Liberation Serif", serif' font-weight="bold" font-style="normal" font-size="40.0">-5</text>
<text transform="translate(228.17 963.85) scale(0.862 1.0)" font-family='"Liberation Serif", serif' font-weight="bold" font-style="normal" font-size="69.0">4.0x10</text>
<text transform="translate(389.15 927.35) scale(0.9 1.0)" font-family='"Liberation Serif", serif' font-weight="bold" font-style="normal" font-size="40.0">-5</text>
<text transform="translate(228.17 875.20) scale(0.862 1.0)" font-family='"Liberation Serif", serif' font-weight="bold" font-style="normal" font-size="69.0">6.0x10</text>
<text transform="translate(389.15 838.70) scale(0.9 1.0)" font-family='"Liberation Serif", serif' font-weight="bold" font-style="normal" font-size="40.0">-5</text>
<text transform="translate(228.17 786.55) scale(0.862 1.0)" font-family='"Liberation Serif", serif' font-weight="bold" font-style="normal" font-size="69.0">8.0x10</text>
<text transform="translate(389.15 750.05) scale(0.9 1.0)" font-family='"Liberation Serif", serif' font-weight="bold" font-style="normal" font-size="40.0">-5</text>
<text transform="translate(228.17 697.90) scale(0.862 1.0)" font-family='"Liberation Serif", serif' font-weight="bold" font-style="normal" font-size="69.0">1.0x10</text>
<text transform="translate(389.15 661.40) scale(0.9 1.0)" font-family='"Liberation Serif", serif' font-weight="bold" font-style="normal" font-size="40.0">-4</text>
<text transform="translate(228.17 609.25) scale(0.862 1.0)" font-family='"Liberation Serif", serif' font-weight="bold" font-style="normal" font-size="69.0">1.2x10</text>
<text transform="translate(389.15 572.75) scale(0.9 1.0)" font-family='"Liberation Serif", serif' font-weight="bold" font-style="normal" font-size="40.0">-4</text>
<text transform="translate(228.17 520.60) scale(0.862 1.0)" font-family='"Liberation Serif", serif' font-weight="bold" font-style="normal" font-size="69.0">1.4x10</text>
<text transform="translate(389.15 484.10) scale(0.9 1.0)" font-family='"Liberation Serif", serif' font-weight="bold" font-style="normal" font-size="40.0">-4</text>
<text transform="translate(228.17 431.95) scale(0.862 1.0)" font-family='"Liberation Serif", serif' font-weight="bold" font-style="normal" font-size="69.0">1.6x10</text>
<text transform="translate(389.15 395.45) scale(0.9 1.0)" font-family='"Liberation Serif", serif' font-weight="bold" font-style="normal" font-size="40.0">-4</text>
<text transform="translate(228.17 343.30) scale(0.862 1.0)" font-family='"Liberation Serif", serif' font-weight="bold" font-style="normal" font-size="69.0">1.8x10</text>
<text transform="translate(389.15 306.80) scale(0.9 1.0)" font-family='"Liberation Serif", serif' font-weight="bold" font-style="normal" font-size="40.0">-4</text>
<text transform="translate(228.17 254.65) scale(0.862 1.0)" font-family='"Liberation Serif", serif' font-weight="bold" font-style="normal" font-size="69.0">2.0x10</text>
<text transform="translate(389.15 218.15) scale(0.9 1.0)" font-family='"Liberation Serif", serif' font-weight="bold" font-style="normal" font-size="40.0">-4</text>
<text transform="translate(228.17 166.00) scale(0.862 1.0)" font-family='"Liberation Serif", serif' font-weight="bold" font-style="normal" font-size="69.0">2.2x10</text>
<text transform="translate(389.15 129.50) scale(0.9 1.0)" font-family='"Liberation Serif", serif' font-weight="bold" font-style="normal" font-size="40.0">-4</text>
<text transform="translate(347.68 1127.45) scale(0.862 1.0)" font-family='"Liberation Serif", serif' font-weight="bold" font-style="normal" font-size="69.0">0.0</text>
<text transform="translate(208.39 1229.80) scale(0.862 1.0)" font-family='"Liberation Serif", serif' font-weight="bold" font-style="normal" font-size="69.0">-2.0x10</text>
<text transform="translate(389.15 1193.30) scale(0.9 1.0)" font-family='"Liberation Serif", serif' font-weight="bold" font-style="normal" font-size="40.0">-5</text>
<text transform="translate(458.59 1352.50) scale(0.862 1.0)" font-family='"Liberation Serif", serif' font-weight="bold" font-style="normal" font-size="69.0">-0.2</text>
<text transform="translate(861.08 1352.50) scale(0.862 1.0)" font-family='"Liberation Serif", serif' font-weight="bold" font-style="normal" font-size="69.0">0.0</text>
<text transform="translate(1253.97 1352.50) scale(0.862 1.0)" font-family='"Liberation Serif", serif' font-weight="bold" font-style="normal" font-size="69.0">0.2</text>
<text transform="translate(1645.98 1352.50) scale(0.862 1.0)" font-family='"Liberation Serif", serif' font-weight="bold" font-style="normal" font-size="69.0">0.4</text>
<text transform="translate(2039.10 1352.50) scale(0.862 1.0)" font-family='"Liberation Serif", serif' font-weight="bold" font-style="normal" font-size="69.0">0.6</text>
<text transform="translate(139.30 740.73) rotate(-90) scale(0.94 1.0)" font-family='"Liberation Sans", sans-serif' font-weight="bold" font-style="italic" font-size="63" stroke="#000" stroke-width="0.9" stroke-linejoin="round">I / A</text>
<text transform="translate(1311.55 1444.50) scale(0.875 1.04)" font-family='"Liberation Sans", sans-serif' font-weight="bold" font-style="italic" font-size="62" stroke="#000" stroke-width="0.9" stroke-linejoin="round">E</text>
<text transform="translate(1347.60 1468.50) scale(0.845 1.03)" font-family='"Liberation Sans", sans-serif' font-weight="bold" font-style="italic" font-size="37.5" stroke="#000" stroke-width="0.9" stroke-linejoin="round">SCE</text>
<text transform="translate(1424.71 1444.50) scale(0.95 1.0)" font-family='"Liberation Sans", sans-serif' font-weight="bold" font-style="italic" font-size="62" stroke="#000" stroke-width="0.9" stroke-linejoin="round">/</text>
<text transform="translate(1472.39 1444.50) scale(0.875 1.04)" font-family='"Liberation Sans", sans-serif' font-weight="bold" font-style="italic" font-size="62" stroke="#000" stroke-width="0.9" stroke-linejoin="round">V</text>
<text transform="translate(228.17 1636.50) scale(0.862 1.0)" font-family='"Liberation Serif", serif' font-weight="bold" font-style="normal" font-size="69.0">2.0x10</text>
<text transform="translate(389.15 1600.00) scale(0.9 1.0)" font-family='"Liberation Serif", serif' font-weight="bold" font-style="normal" font-size="40.0">-4</text>
<text transform="translate(228.17 1908.00) scale(0.862 1.0)" font-family='"Liberation Serif", serif' font-weight="bold" font-style="normal" font-size="69.0">1.5x10</text>
<text transform="translate(389.15 1871.50) scale(0.9 1.0)" font-family='"Liberation Serif", serif' font-weight="bold" font-style="normal" font-size="40.0">-4</text>
<text transform="translate(228.17 2179.50) scale(0.862 1.0)" font-family='"Liberation Serif", serif' font-weight="bold" font-style="normal" font-size="69.0">1.0x10</text>
<text transform="translate(389.15 2143.00) scale(0.9 1.0)" font-family='"Liberation Serif", serif' font-weight="bold" font-style="normal" font-size="40.0">-4</text>
<text transform="translate(228.17 2451.00) scale(0.862 1.0)" font-family='"Liberation Serif", serif' font-weight="bold" font-style="normal" font-size="69.0">5.0x10</text>
<text transform="translate(389.15 2414.50) scale(0.9 1.0)" font-family='"Liberation Serif", serif' font-weight="bold" font-style="normal" font-size="40.0">-5</text>
<text transform="translate(535.07 2758.60) scale(0.862 1.0)" font-family='"Liberation Serif", serif' font-weight="bold" font-style="normal" font-size="69.0">4.0</text>
<text transform="translate(744.72 2758.60) scale(0.862 1.0)" font-family='"Liberation Serif", serif' font-weight="bold" font-style="normal" font-size="69.0">4.2</text>
<text transform="translate(953.47 2758.60) scale(0.862 1.0)" font-family='"Liberation Serif", serif' font-weight="bold" font-style="normal" font-size="69.0">4.4</text>
<text transform="translate(1163.35 2758.60) scale(0.862 1.0)" font-family='"Liberation Serif", serif' font-weight="bold" font-style="normal" font-size="69.0">4.6</text>
<text transform="translate(1372.92 2758.60) scale(0.862 1.0)" font-family='"Liberation Serif", serif' font-weight="bold" font-style="normal" font-size="69.0">4.8</text>
<text transform="translate(1581.75 2758.60) scale(0.862 1.0)" font-family='"Liberation Serif", serif' font-weight="bold" font-style="normal" font-size="69.0">5.0</text>
<text transform="translate(1791.40 2758.60) scale(0.862 1.0)" font-family='"Liberation Serif", serif' font-weight="bold" font-style="normal" font-size="69.0">5.2</text>
<text transform="translate(2000.16 2758.60) scale(0.862 1.0)" font-family='"Liberation Serif", serif' font-weight="bold" font-style="normal" font-size="69.0">5.4</text>
<text transform="translate(2210.03 2758.60) scale(0.862 1.0)" font-family='"Liberation Serif", serif' font-weight="bold" font-style="normal" font-size="69.0">5.6</text>
<text transform="translate(174.80 2174.63) rotate(-90) scale(0.94 1.0)" font-family='"Liberation Sans", sans-serif' font-weight="bold" font-style="italic" font-size="63" stroke="#000" stroke-width="0.9" stroke-linejoin="round">I / A</text>
<text transform="translate(1207.74 2871.00) scale(0.875 1.0)" font-family='"Liberation Sans", sans-serif' font-weight="bold" font-style="italic" font-size="63" stroke="#000" stroke-width="0.9" stroke-linejoin="round">Concentration/ M</text>
<text transform="translate(536.80 1589.50) scale(0.858 1.03)" font-family='"Liberation Sans", sans-serif' font-weight="bold" font-style="normal" font-size="64" stroke="#000" stroke-width="0.9" stroke-linejoin="round">Optimized concentration is 5 M CH</text>
<text transform="translate(1441.25 1614.50) scale(0.875 1.03)" font-family='"Liberation Sans", sans-serif' font-weight="bold" font-style="normal" font-size="38" stroke="#000" stroke-width="0.9" stroke-linejoin="round">3</text>
<text transform="translate(1460.29 1589.50) scale(0.862 1.03)" font-family='"Liberation Sans", sans-serif' font-weight="bold" font-style="normal" font-size="64" stroke="#000" stroke-width="0.9" stroke-linejoin="round">OH</text>
<text transform="translate(0 269.5) scale(0.875 1)" font-family='"Liberation Sans", sans-serif' font-weight="bold" font-style="normal" stroke="#000" stroke-width="0.9" stroke-linejoin="round"><tspan x="746.79" font-size="103.2">(</tspan><tspan x="781.20" font-size="106.5">A</tspan><tspan x="852.72" font-size="103.2">)</tspan></text>
<text transform="translate(0 868.5) scale(0.875 1)" font-family='"Liberation Sans", sans-serif' font-weight="bold" font-style="normal" stroke="#000" stroke-width="0.9" stroke-linejoin="round"><tspan x="1306.23" font-size="90.5">(</tspan><tspan x="1336.62" font-size="90.5">a</tspan><tspan x="1389.39" font-size="90.5">)</tspan></text>
<text transform="translate(0 391.3) scale(0.875 1)" font-family='"Liberation Sans", sans-serif' font-weight="bold" font-style="normal" stroke="#000" stroke-width="0.9" stroke-linejoin="round"><tspan x="1392.19" font-size="88">(</tspan><tspan x="1421.66" font-size="88">b</tspan><tspan x="1477.17" font-size="88">)</tspan></text>
<text transform="translate(0 184.5) scale(0.875 1)" font-family='"Liberation Sans", sans-serif' font-weight="bold" font-style="normal" stroke="#000" stroke-width="0.9" stroke-linejoin="round"><tspan x="1513.58" font-size="77.7">(</tspan><tspan x="1540.81" font-size="77.7">c</tspan><tspan x="1584.36" font-size="77.7">)</tspan></text>
<text transform="translate(0 682.2) scale(0.875 1)" font-family='"Liberation Sans", sans-serif' font-weight="bold" font-style="normal" stroke="#000" stroke-width="0.9" stroke-linejoin="round"><tspan x="1598.34" font-size="68.9">(</tspan><tspan x="1622.59" font-size="68.9">d</tspan><tspan x="1666.18" font-size="68.9">)</tspan></text>
<text transform="translate(0 1638) scale(0.875 1)" font-family='"Liberation Sans", sans-serif' font-weight="bold" font-style="normal" stroke="#000" stroke-width="0.9" stroke-linejoin="round"><tspan x="2499.08" font-size="100.5">(</tspan><tspan x="2534.44" font-size="103.3">B</tspan><tspan x="2608.08" font-size="100.5">)</tspan></text>
</svg>
</body></html>
